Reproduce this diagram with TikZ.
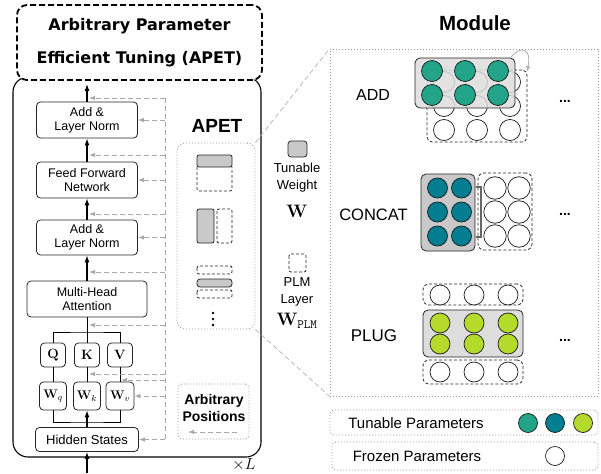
\documentclass[tikz,border=0pt]{standalone}
\usepackage{fix-cm}
\usepackage[no-math]{fontspec}
\setmainfont{Liberation Sans}
\newfontfamily\titlefont{DejaVu Sans}
\usetikzlibrary{arrows.meta}
\definecolor{addgreen}{HTML}{23A388}
\definecolor{catteal}{HTML}{037E91}
\definecolor{pluglime}{HTML}{B4DA2B}
\definecolor{tunegray}{HTML}{C9C9C9}
\definecolor{modgray}{HTML}{DDDDDD}
\definecolor{gategray}{HTML}{A8A8A8}
\newcommand{\fsz}[1]{\fontsize{#1}{#1}\selectfont}
\begin{document}
\begin{tikzpicture}[x=1pt, y=-1pt,
    layer/.style={draw=black!85, line width=0.8pt, rounded corners=4pt, align=center,
      inner sep=0pt, font=\fontsize{12.5}{14}\selectfont},
    mat/.style={draw=black!85, line width=0.8pt, rounded corners=4pt, inner sep=0pt,
      minimum width=25pt, minimum height=24pt, font=\fsz{13.5}},
    res/.style={line width=1.1pt, -{Latex[length=7pt,width=5pt]}},
    wire/.style={line width=0.9pt},
    gate/.style={gategray, line width=0.9pt, dash pattern=on 5pt off 3pt,
      -{Latex[length=6pt,width=4.5pt]}},
    rail/.style={gategray, line width=0.9pt, dash pattern=on 5pt off 3pt},
    dotbox/.style={draw=gray!80, line width=0.8pt, dash pattern=on 1pt off 2pt, inner sep=0pt},
    tune/.style={draw=black!85, line width=0.8pt, fill=tunegray, rounded corners=2pt},
    froz/.style={draw=black!85, line width=0.8pt, dash pattern=on 3pt off 2pt, rounded corners=2pt},
    unit/.style={circle, draw=black!90, line width=0.7pt, minimum size=20pt, inner sep=0pt},
    zoomline/.style={gray!60, line width=0.7pt, dash pattern=on 5pt off 3pt}]
  \useasboundingbox (0,0) rectangle (601,473);

  % transformer layer
  \node[draw, line width=1.1pt, rounded corners=15pt, minimum width=248pt,
    minimum height=380pt, inner sep=0pt] (layerbox) at (137,267) {};
  \node[draw, fill=white, line width=1.8pt, dash pattern=on 6pt off 3pt, rounded corners=10pt,
    minimum width=245pt, minimum height=75pt, inner sep=0pt, align=center,
    font=\titlefont\bfseries\fontsize{16}{33}\selectfont] (title) at (139.5,42.5)
    {Arbitrary Parameter\\Efficient Tuning (APET)};
  \node[font=\fsz{16}] (times) at (244,465) {$\times L$};

  \node[layer, minimum width=101pt, minimum height=36pt] (addtop) at (87,120) {Add \&\\Layer Norm};
  \node[layer, minimum width=101pt, minimum height=36pt] (ffn) at (87,180) {Feed Forward\\Network};
  \node[layer, minimum width=101pt, minimum height=35pt] (addbot) at (87,237.5) {Add \&\\Layer Norm};
  \node[layer, minimum width=120pt, minimum height=36pt] (mha) at (87,299) {Multi-Head\\Attention};
  \node[mat] (q) at (53,355) {$\mathbf{Q}$};
  \node[mat] (k) at (87,355) {$\mathbf{K}$};
  \node[mat] (v) at (120,355) {$\mathbf{V}$};
  \node[mat, minimum width=27pt, minimum height=28pt, font=\fsz{12.5}] (wq) at (53,396) {$\mathbf{W}_q$};
  \node[mat, minimum width=27pt, minimum height=28pt, font=\fsz{12.5}] (wk) at (87,396) {$\mathbf{W}_k$};
  \node[mat, minimum width=28pt, minimum height=28pt, font=\fsz{12.5}] (wv) at (120,396) {$\mathbf{W}_v$};
  \node[layer, minimum width=103pt, minimum height=24pt, font=\fsz{13}] (hidden) at (87,439.5) {Hidden States};

  \coordinate (out) at (87,84);
  \coordinate (in) at (87,473);
  \coordinate (qkvbus) at (87,332);
  \coordinate (wbus) at (87,422);
  \draw[res] (addtop.north) -- (out);
  \draw[res] (ffn.north) -- (addtop.south);
  \draw[res] (addbot.north) -- (ffn.south);
  \draw[res] (mha.north) -- (addbot.south);
  \draw[wire] (k.north) -- (mha.south);
  \draw[wire] (q.north) |- (qkvbus) -| (v.north);
  \draw[wire] (q) -- (wq);
  \draw[wire] (k) -- (wk);
  \draw[wire] (v) -- (wv);
  \draw[wire] (wq.south) |- (wbus) -| (wv.south);
  \draw[res] (hidden.north) -- (wk.south);
  \draw[res] (in) -- (hidden.south);

  % arbitrary positions
  \coordinate (railtop) at (165,98);
  \coordinate (railbot) at (165,439);
  \draw[rail] (railtop) -- (railbot);
  \foreach \y [count=\i] in {98,155,214,272,325,374} {
    \coordinate (tap\i) at (89,\y);
    \coordinate (src\i) at (165,\y);
    \draw[gate] (src\i) -- (tap\i);
  }
  \coordinate (vtap) at (121,380);
  \draw[gate] (railtop |- vtap) -- (vtap);
  \draw[gate] (railtop |- addtop.east) -- (addtop.east);
  \draw[gate] (railtop |- ffn.east) -- (ffn.east);
  \draw[gate] (railtop |- addbot.east) -- (addbot.east);
  \draw[gate] (railtop |- wv.east) -- (wv.east);
  \draw[gate] (railtop |- hidden.east) -- (hidden.east);

  \node[dotbox, rounded corners=4pt, minimum width=71pt, minimum height=55pt] (anypos) at (213.5,411.5) {};
  \node[align=center, font=\bfseries\fontsize{14}{17}\selectfont] (anyposlbl) at (214,408) {Arbitrary\\Positions};
  \coordinate (anyfrom) at (237,432);
  \coordinate (anyto) at (188,432);
  \draw[gate] (anyfrom) -- (anyto);

  % APET variants
  \node[font=\bfseries\fsz{19}] (apetlbl) at (217,126) {APET};
  \node[dotbox, rounded corners=8pt, minimum width=78pt, minimum height=186pt] (apetbox) at (216,236) {};
  \draw[froz] (197,167) -- (197,191) -- (232,191) -- (232,167);
  \draw[tune] (197,155) rectangle (232,167);
  \draw[tune] (197,209) rectangle (214,243);
  \draw[froz] (217,209) rectangle (232,243);
  \draw[froz] (197,266) rectangle (232,274);
  \draw[tune, rounded corners=3pt] (197,279) rectangle (232,287);
  \draw[froz] (197,290) rectangle (232,298);
  \foreach \y in {313,319,325}
    \fill (213,\y) circle (1.4pt);

  % weight legend
  \draw[tune, rounded corners=3pt] (288,141) rectangle (307,157);
  \node[align=center, font=\fontsize{13}{17}\selectfont] (tunetxt) at (297,178) {Tunable\\Weight};
  \node[font=\fsz{18}] (tunesym) at (297,211) {$\mathbf{W}$};
  \draw[froz] (289,254) rectangle (306,272);
  \node[align=center, font=\fontsize{13}{17}\selectfont] (plmtxt) at (297,292) {PLM\\Layer};
  \node[font=\fsz{18}] (plmsym) at (297,321) {$\mathbf{W}_{\mathtt{PLM}}$};

  % module
  \node[dotbox, minimum width=268pt, minimum height=347pt] (modbox) at (464,222.5) {};
  \node[font=\bfseries\fsz{20.5}] (modtitle) at (475,23) {Module};
  \draw[zoomline] (apetbox.north east) -- (modbox.north west);
  \draw[zoomline] (apetbox.south east) -- (modbox.south west);

  % ADD
  \node[font=\fsz{16}] (addlbl) at (373,95) {ADD};
  \node[froz, rounded corners=5pt, minimum width=100pt, minimum height=72pt, inner sep=0pt] (addfroz) at (477,106) {};
  \foreach \x [count=\i] in {444,477,510}
    \foreach \y [count=\j] in {82,106,130}
      \node[unit, minimum size=21pt, fill=white] (addw\i\j) at (\x,\y) {};
  \node[draw=black!85, line width=0.8pt, fill=modgray, fill opacity=0.85, rounded corners=5pt,
    minimum width=100pt, minimum height=50pt, inner sep=0pt] (addtune) at (465,83) {};
  \foreach \x [count=\i] in {432,465,498}
    \foreach \y [count=\j] in {71,95}
      \node[unit, minimum size=21pt, fill=addgreen] (addt\i\j) at (\x,\y) {};
  \coordinate (swapfrom) at (511,57);
  \coordinate (swapto) at (527,72);
  \draw[gray!60, line width=0.9pt, -{Latex[length=6pt,width=4.5pt]}]
    (swapfrom) .. controls (519,47) and (532,46) .. (swapto);
  \node[font=\bfseries\fsz{14}] (adddots) at (565,101) {...};

  % CONCAT
  \node[font=\fsz{16.5}] (catlbl) at (373.5,215) {CONCAT};
  \node[draw=black!85, line width=0.8pt, fill=tunegray, rounded corners=5pt,
    minimum width=54pt, minimum height=77pt, inner sep=0pt] (cattune) at (448,212.5) {};
  \foreach \x [count=\i] in {437.5,461.5}
    \foreach \y [count=\j] in {188,212,236}
      \node[unit, fill=catteal] (catt\i\j) at (\x,\y) {};
  \node[froz, rounded corners=6pt, minimum width=54pt, minimum height=77pt, inner sep=0pt] (catfroz) at (505,211.5) {};
  \foreach \x [count=\i] in {495,519}
    \foreach \y [count=\j] in {188,212,236}
      \node[unit, minimum size=22.5pt, fill=white] (catw\i\j) at (\x,\y) {};
  \draw[black!60, line width=2.5pt] (476,187) -- (481,187) -- (481,237) -- (476,237);
  \node[font=\bfseries\fsz{14}] (catdots) at (565,214) {...};

  % PLUG
  \node[font=\fsz{17}] (pluglbl) at (374,336) {PLUG};
  \node[froz, rounded corners=6pt, minimum width=100pt, minimum height=21pt, inner sep=0pt] (plugtop) at (473,294.5) {};
  \node[draw=black!85, line width=0.8pt, fill=modgray, rounded corners=5pt,
    minimum width=100pt, minimum height=47pt, inner sep=0pt] (plugtune) at (473,333.5) {};
  \node[froz, rounded corners=6pt, minimum width=100pt, minimum height=24pt, inner sep=0pt] (plugbot) at (473,372) {};
  \foreach \x [count=\i] in {440,474,508} {
    \node[unit, fill=white] (plugw\i) at (\x,295) {};
    \node[unit, fill=pluglime] (plugt\i) at (\x,323) {};
    \node[unit, fill=pluglime] (plugu\i) at (\x,344) {};
    \node[unit, fill=white] (plugv\i) at (\x,372) {};
  }
  \node[font=\bfseries\fsz{14}] (plugdots) at (565,340) {...};

  % parameter legend
  \node[dotbox, rounded corners=4pt, minimum width=268pt, minimum height=25pt] (tuneleg) at (464,422.5) {};
  \node[font=\fsz{15}] (tunelegtxt) at (416,423) {Tunable Parameters};
  \node[unit, minimum size=19pt, fill=addgreen] (legadd) at (528,423) {};
  \node[unit, minimum size=19pt, fill=catteal] (legcat) at (555,423) {};
  \node[unit, minimum size=19pt, fill=pluglime] (legplug) at (583,423) {};
  \node[dotbox, rounded corners=4pt, minimum width=266pt, minimum height=28pt] (frozleg) at (465,456) {};
  \node[font=\fsz{15}] (frozlegtxt) at (417,456) {Frozen Parameters};
  \node[unit, minimum size=19pt, fill=white] (legfroz) at (555,456) {};
\end{tikzpicture}
\end{document}
